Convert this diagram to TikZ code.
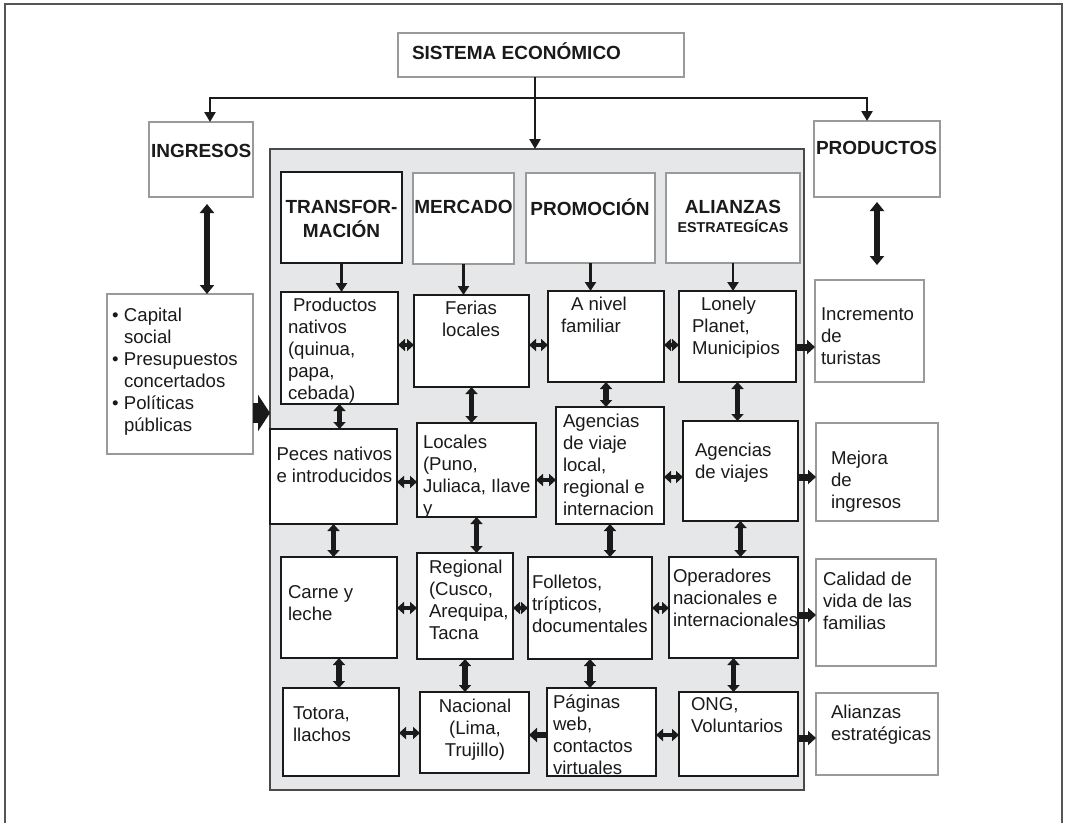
\documentclass[tikz,border=0pt]{standalone}
\usepackage{fontspec}
\setmainfont{Liberation Sans}
\usetikzlibrary{arrows.meta}
\definecolor{ink}{HTML}{1A1A1A}
\definecolor{rim}{HTML}{9A9A9A}
\definecolor{panel}{HTML}{E6E7E9}
\definecolor{panelrim}{HTML}{4A4A4A}
\definecolor{framegray}{HTML}{555555}

\tikzset{
  box/.style={draw=ink, line width=2pt, fill=white, inner sep=0pt, outer sep=0pt},
  lbox/.style={draw=rim, line width=1.6pt, fill=white, inner sep=0pt, outer sep=0pt},
  panelbox/.style={draw=panelrim, line width=2pt, fill=panel, inner sep=0pt, outer sep=0pt},
  txt/.style={inner sep=0pt, outer sep=0pt, text=ink, font=\fontsize{18.6}{22}\selectfont},
  hdr/.style={font=\fontsize{19}{21}\selectfont\bfseries},
  trunk/.style={draw=ink, line width=2.6pt},
  trunkarr/.style={trunk, -{Triangle[width=11pt,length=10pt]}},
  feed/.style={draw=ink, line width=2.4pt, -{Triangle[width=11pt,length=9pt]}},
  dv/.style={draw=ink, line width=5.5pt, {Triangle[width=12pt,length=7pt]}-{Triangle[width=12pt,length=7pt]}},
  dvbig/.style={draw=ink, line width=6.5pt, {Triangle[width=14pt,length=9pt]}-{Triangle[width=14pt,length=9pt]}},
  dh/.style={draw=ink, line width=4.5pt, {Triangle[width=12pt,length=7pt]}-{Triangle[width=12pt,length=7pt]}},
  outa/.style={draw=ink, line width=7pt, -{Triangle[width=14pt,length=8pt]}},
  bigarr/.style={draw=ink, line width=20pt, -{Triangle[width=36pt,length=12pt]}},
}

% box from its corners: style, name, x1, y1, x2, y2
\newcommand\bx[6]{%
  \pgfmathsetmacro\qw{#5-#3}\pgfmathsetmacro\qh{#6-#4}%
  \node[#1, minimum width=\qw pt, minimum height=\qh pt] (#2) at ({(#3+#5)/2},{(#4+#6)/2}) {};}
% text placed by the left end (txl) or centre (txc) of its first baseline
\newcommand\txl[5][]{\node[txt,#1,anchor=north west,align=left] (#2) at (#3,{#4-15.4}) {\strut#5};}
\newcommand\txc[5][]{\node[txt,#1,anchor=north,align=center] (#2) at (#3,{#4-15.4}) {\strut#5};}

\begin{document}
\begin{tikzpicture}[x=1pt,y=-1pt]
\useasboundingbox (0,0) rectangle (1066,823);

% page frame
\draw[framegray, line width=1.5pt] (5,823) -- (5,4) -- (1062,4) -- (1062,823);

% top level
\bx{lbox}{sis}{398}{33}{684}{77}
\bx{lbox}{ing}{149}{122}{253}{197}
\bx{lbox}{prod}{814}{121}{940}{197}
\bx{lbox}{bul}{107}{294}{253}{454}
\bx{panelbox}{gray}{270}{149}{804}{790}

% column headers
\bx{box}{h1}{281}{172}{402}{263}
\bx{lbox}{h2}{413}{173}{514}{264}
\bx{lbox}{h3}{526}{173}{655}{263}
\bx{lbox}{h4}{666}{173}{800}{263}

% grid
\bx{box}{a1}{281}{292}{398}{404}
\bx{box}{a2}{414}{295}{529}{387}
\bx{box}{a3}{548}{291}{664}{382}
\bx{box}{a4}{679}{291}{796}{382}
\bx{box}{b1}{270}{429}{397}{524}
\bx{box}{b2}{417}{423}{536}{517}
\bx{box}{b3}{556}{407}{664}{524}
\bx{box}{b4}{683}{421}{798}{521}
\bx{box}{c1}{281}{557}{397}{658}
\bx{box}{c2}{417}{553}{513}{659}
\bx{box}{c3}{528}{557}{652}{659}
\bx{box}{c4}{669}{557}{798}{658}
\bx{box}{d1}{283}{688}{399}{776}
\bx{box}{d2}{420}{692}{529}{773}
\bx{box}{d3}{547}{688}{656}{776}
\bx{box}{d4}{679}{692}{798}{776}

% results
\bx{lbox}{o1}{815}{280}{924}{382}
\bx{lbox}{o2}{816}{423}{938}{521}
\bx{lbox}{o3}{816}{559}{936}{666}
\bx{lbox}{o4}{816}{693}{938}{775}

% texts
\txl[hdr]{t-sis}{412}{58}{SISTEMA ECONÓMICO}
\txl[hdr]{t-ing}{151}{158}{INGRESOS}
\txl[hdr]{t-prod}{816}{155}{PRODUCTOS}
\txl{t-bul}{112}{321}{\makebox[12pt][l]{\textbullet}Capital\\\hspace*{12pt}social\\\makebox[12pt][l]{\textbullet}Presupuestos\\\hspace*{12pt}concertados\\\makebox[12pt][l]{\textbullet}Políticas\\\hspace*{12pt}públicas}

\txc[hdr]{t-h1}{341.5}{214}{TRANSFOR-\\MACIÓN}
\txc[hdr]{t-h2}{463.5}{214}{MERCADO}
\txc[hdr]{t-h3}{590}{214}{PROMOCIÓN}
\txc[hdr]{t-h4}{733}{214}{ALIANZAS\\[-2pt]{\fontsize{14.3}{16}\selectfont ESTRATEGÍCAS}}

\txl{t-a1}{288}{311}{\hspace*{5pt}Productos\\nativos\\(quinua,\\papa,\\cebada)}
\txc{t-a2}{471}{314}{Ferias\\locales}
\txl{t-a3}{561}{310}{\hspace*{10pt}A nivel\\familiar}
\txl{t-a4}{692}{310}{\hspace*{9pt}Lonely\\Planet,\\Municipios}
\txl{t-o1}{821}{320}{Incremento\\de\\turistas}

\txl{t-b1}{276.5}{460}{Peces nativos\\e introducidos}
\txl{t-b2}{423}{448}{Locales\\(Puno,\\Juliaca, Ilave\\y}
\txl{t-b3}{563}{427}{Agencias\\de viaje\\local,\\regional e\\internacion}
\txl{t-b4}{695}{456}{Agencias\\de viajes}
\txl{t-o2}{831}{464}{Mejora\\de\\ingresos}

\txl{t-c1}{288}{598}{Carne y\\leche}
\txl{t-c2}{429}{573}{Regional\\(Cusco,\\Arequipa,\\Tacna}
\txl{t-c3}{532}{588}{Folletos,\\trípticos,\\documentales}
\txl{t-c4}{673}{582}{Operadores\\nacionales e\\internacionales}
\txl{t-o3}{823}{585}{Calidad de\\vida de las\\familias}

\txl{t-d1}{293}{719}{Totora,\\llachos}
\txc{t-d2}{475}{712}{Nacional\\(Lima,\\Trujillo)}
\txl{t-d3}{553}{708}{Páginas\\web,\\contactos\\virtuales}
\txl{t-d4}{691}{710}{ONG,\\Voluntarios}
\txl{t-o4}{831}{718}{Alianzas\\estratégicas}

% main branching
\coordinate (split) at (535,98);
\draw[trunkarr] (sis.south -| split) -- (split |- gray.north);
\draw[trunkarr] (split) -| (210,0 |- ing.north);
\draw[trunkarr] (split) -| (867,0 |- prod.north);

\draw[dvbig, shorten <=7pt] (207,0 |- ing.south) -- (207,0 |- bul.north);
\draw[dvbig, shorten <=5pt, shorten >=15pt] (prod.south) -- (prod.south |- o1.north);
\draw[bigarr] (bul.east |- 0,413) -- (gray.west |- 0,413);

% headers into first row
\foreach \c/\r in {h1/a1,h2/a2,h3/a3,h4/a4}
  \draw[feed] (\c.south) -- (\c.south |- \r.north);

% vertical links
\foreach \u/\v in {a1/b1,a2/b2,a3/b3,a4/b4,b1/c1,b2/c2,b3/c3,b4/c4,c1/d1,c2/d2,c3/d3,c4/d4}
  \draw[dv] (\u.south) -- (\u.south |- \v.north);

% horizontal links
\draw[dh] (a1.east |- 0,345) -- (a2.west |- 0,345);
\draw[dh] (a2.east |- 0,345) -- (a3.west |- 0,345);
\draw[dh] (a3.east |- 0,345) -- (a4.west |- 0,345);
\draw[dh] (b1.east |- 0,482) -- (b2.west |- 0,482);
\draw[dh] (b2.east |- 0,480) -- (b3.west |- 0,480);
\draw[dh] (b3.east |- 0,477) -- (b4.west |- 0,477);
\draw[dh] (c1.east |- 0,608) -- (c2.west |- 0,608);
\draw[dh] (c2.east |- 0,608) -- (c3.west |- 0,608);
\draw[dh] (c3.east |- 0,608) -- (c4.west |- 0,608);
\draw[dh] (d1.east |- 0,733) -- (d2.west |- 0,733);
\draw[outa, line width=5.5pt] (d3.west |- 0,735) -- (d2.east |- 0,735);
\draw[dh] (d3.east |- 0,735) -- (d4.west |- 0,735);

% towards the results
\draw[outa] (a4.east |- 0,347) -- (o1.west |- 0,347);
\draw[outa] (b4.east |- 0,477) -- (o2.west |- 0,477);
\draw[outa] (c4.east |- 0,615) -- (o3.west |- 0,615);
\draw[outa] (d4.east |- 0,738) -- (o4.west |- 0,738);
\end{tikzpicture}
\end{document}
